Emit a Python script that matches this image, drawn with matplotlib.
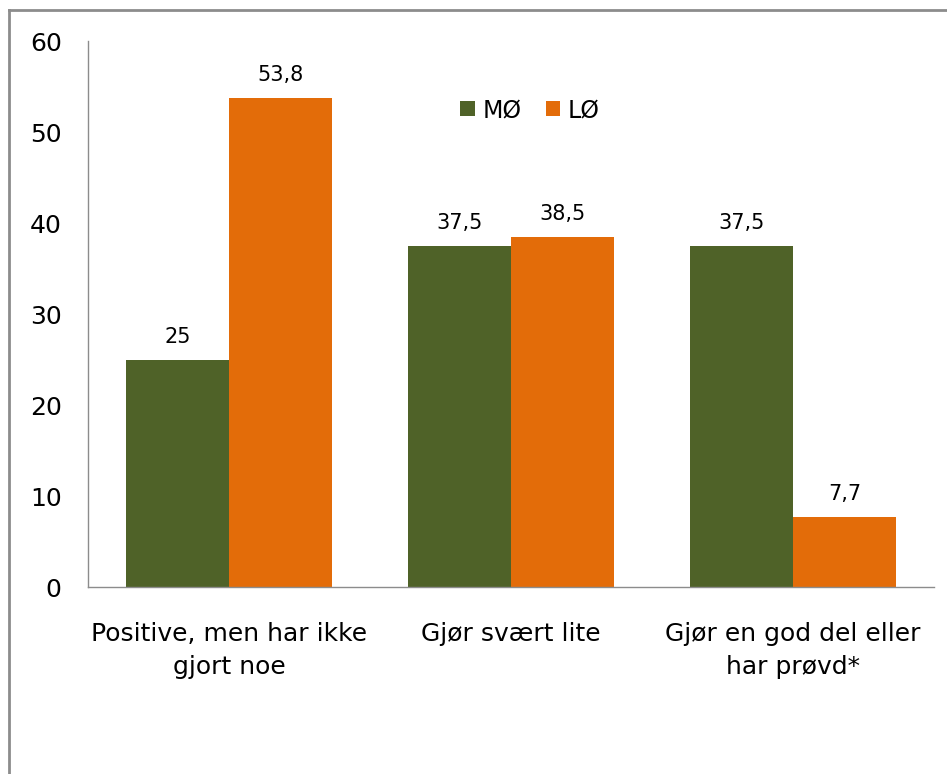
import matplotlib
matplotlib.use("Agg")
import matplotlib.pyplot as plt
from matplotlib.lines import Line2D
import numpy as np

# Data
categories = ["Positive, men har ikke\ngjort noe", "Gjør svært lite", "Gjør en god del eller\nhar prøvd*"]
mo_values = [25, 37.5, 37.5]
lo_values = [53.8, 38.5, 7.7]
series_names = ["MØ", "LØ"]
yticks = [0, 10, 20, 30, 40, 50, 60]

GREEN = "#4F6228"
ORANGE = "#E36C09"

plt.rcParams["font.family"] = ["DejaVu Sans"]

fig = plt.figure(figsize=(9.47, 7.74), dpi=100)
ax = fig.add_axes([0.093, 0.2416, 0.8934, 0.705])

x = np.arange(len(categories))
width = 0.365
b1 = ax.bar(x - width / 2, mo_values, width, color=GREEN, label=series_names[0])
b2 = ax.bar(x + width / 2, lo_values, width, color=ORANGE, label=series_names[1])

# Value labels
for bars, vals in ((b1, mo_values), (b2, lo_values)):
    for rect, v in zip(bars, vals):
        txt = f"{v:g}".replace(".", ",")
        ax.annotate(txt, (rect.get_x() + rect.get_width() / 2, v),
                    xytext=(0, 9), textcoords="offset points",
                    ha="center", va="bottom", fontsize=15)

ax.set_xlim(-0.5, 2.5)
ax.set_ylim(0, 60)
ax.set_yticks(yticks)
ax.set_yticklabels([str(t) for t in yticks], fontsize=18)
ax.set_xticks(x)
ax.set_xticklabels(categories, fontsize=18)
for lbl in ax.get_xticklabels():
    lbl.set_linespacing(1.5)
ax.tick_params(axis="both", length=0)
ax.tick_params(axis="y", pad=19)
ax.tick_params(axis="x", pad=25)

for s in ("top", "right"):
    ax.spines[s].set_visible(False)
for s in ("left", "bottom"):
    ax.spines[s].set_color("#8c8c8c")
    ax.spines[s].set_linewidth(1)

ax.legend(loc="upper left", bbox_to_anchor=(0.415, 0.935), ncol=2, frameon=False,
          fontsize=17, handlelength=0.6, handleheight=0.6, handletextpad=0.35,
          columnspacing=1.0)

# Outer border (left and top edge)
fig.add_artist(Line2D([0.0095, 0.0095], [0, 0.987], transform=fig.transFigure,
                      color="#8c8c8c", linewidth=2))
fig.add_artist(Line2D([0.0095, 1.0], [0.987, 0.987], transform=fig.transFigure,
                      color="#8c8c8c", linewidth=2))

fig.savefig("out.png", dpi=100)
